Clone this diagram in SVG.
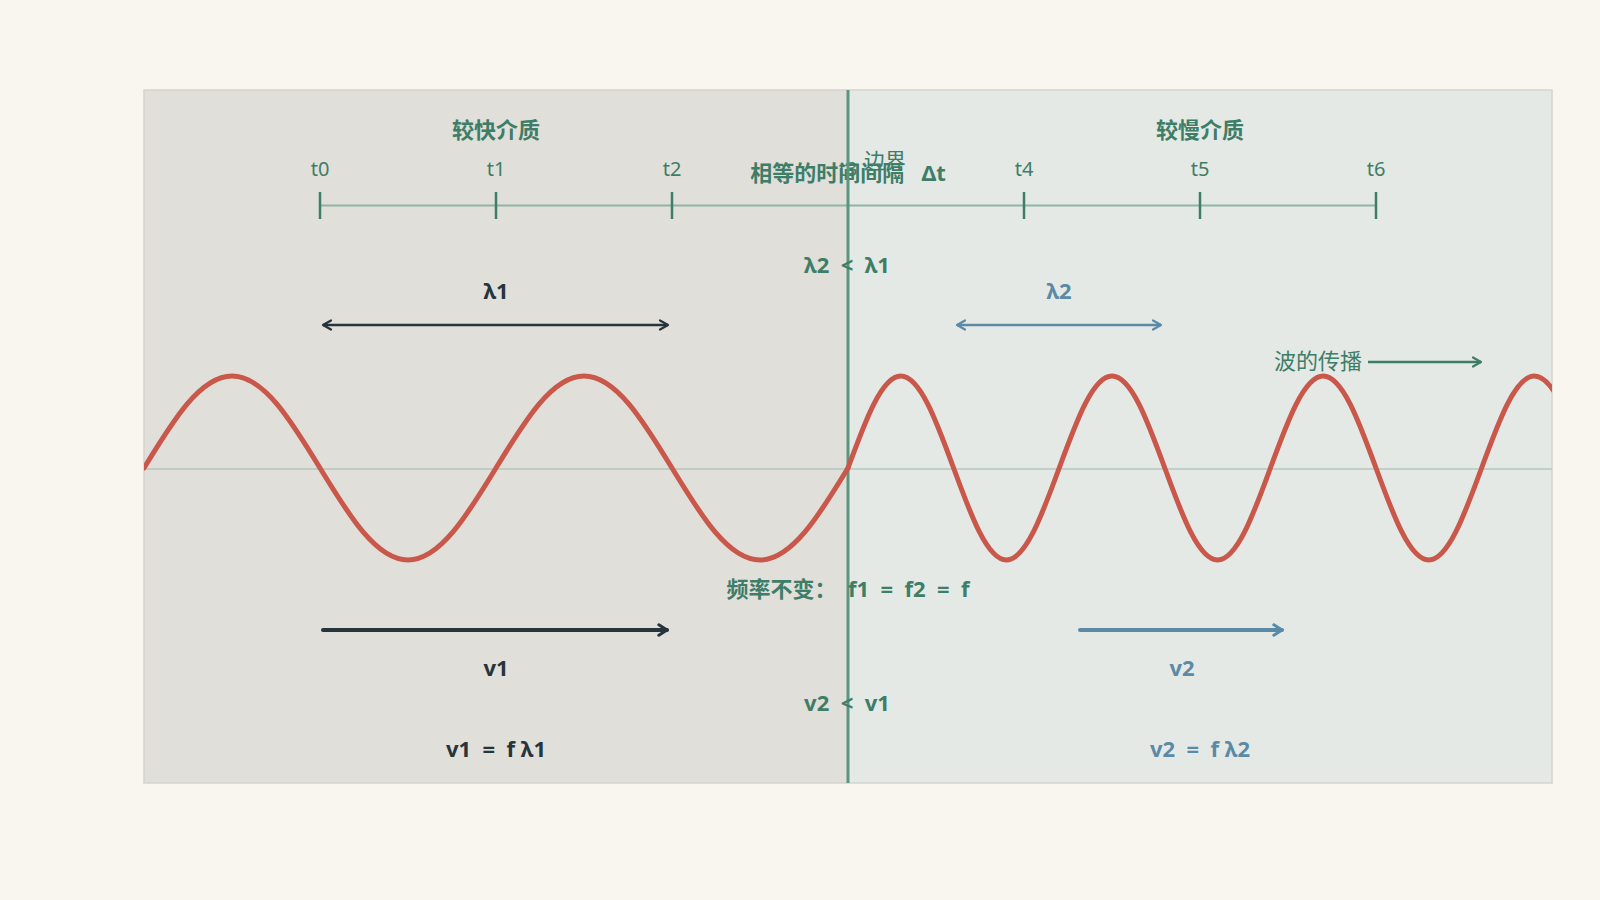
<svg xmlns="http://www.w3.org/2000/svg" width="1600" height="900" viewBox="0 0 1600 900">
<style>
.t{font-family:"Noto Sans","Noto Sans CJK SC",sans-serif;text-anchor:middle;white-space:pre}
.b{font-weight:bold}
.g{fill:#3e7d67}
.d{fill:#27343c}
.bl{fill:#5a8aa6}
.tick{stroke:#3e7d67;stroke-width:2.5}
</style>
<defs>
<marker id="hd" viewBox="0 0 12 12" refX="10" refY="6" markerWidth="12" markerHeight="12" markerUnits="userSpaceOnUse" orient="auto-start-reverse"><path d="M2,1.5 L10,6 L2,10.5" fill="none" stroke="#27343c" stroke-width="2.2" stroke-linecap="round" stroke-linejoin="round"/></marker>
<marker id="hb" viewBox="0 0 12 12" refX="10" refY="6" markerWidth="12" markerHeight="12" markerUnits="userSpaceOnUse" orient="auto-start-reverse"><path d="M2,1.5 L10,6 L2,10.5" fill="none" stroke="#5a8aa6" stroke-width="2.2" stroke-linecap="round" stroke-linejoin="round"/></marker>
<marker id="hg" viewBox="0 0 12 12" refX="10" refY="6" markerWidth="12" markerHeight="12" markerUnits="userSpaceOnUse" orient="auto"><path d="M2,1.5 L10,6 L2,10.5" fill="none" stroke="#3e7d67" stroke-width="2.2" stroke-linecap="round" stroke-linejoin="round"/></marker>
<marker id="hdt" viewBox="0 0 12 12" refX="10" refY="6" markerWidth="14" markerHeight="14" markerUnits="userSpaceOnUse" orient="auto"><path d="M3,1.5 L10,6 L3,10.5" fill="none" stroke="#27343c" stroke-width="2.6" stroke-linecap="round" stroke-linejoin="round"/></marker>
<marker id="hbt" viewBox="0 0 12 12" refX="10" refY="6" markerWidth="14" markerHeight="14" markerUnits="userSpaceOnUse" orient="auto"><path d="M3,1.5 L10,6 L3,10.5" fill="none" stroke="#5a8aa6" stroke-width="2.6" stroke-linecap="round" stroke-linejoin="round"/></marker>
<clipPath id="pc"><rect x="144" y="90" width="1408" height="693"/></clipPath>
</defs>
<rect width="1600" height="900" fill="#f9f6ef"/>
<g id="media">
<rect id="fast" x="144" y="90" width="704" height="693" fill="#e0dfda"/>
<rect id="slow" x="848" y="90" width="704" height="693" fill="#e4e9e5"/>
<rect x="144" y="90" width="1408" height="693" fill="none" stroke="#d6d4cd" stroke-width="1.5"/>
</g>
<g id="titles">
<text class="t b g" x="496" y="138" font-size="22">较快介质</text>
<text class="t b g" x="1200" y="138" font-size="22">较慢介质</text>
</g>
<g id="timeline">
<line x1="320" y1="205.5" x2="1376" y2="205.5" stroke="#8fb5a4" stroke-width="1.8"/>
<line class="tick" x1="320" y1="192" x2="320" y2="219"/>
<line class="tick" x1="496" y1="192" x2="496" y2="219"/>
<line class="tick" x1="672" y1="192" x2="672" y2="219"/>
<line class="tick" x1="1024" y1="192" x2="1024" y2="219"/>
<line class="tick" x1="1200" y1="192" x2="1200" y2="219"/>
<line class="tick" x1="1376" y1="192" x2="1376" y2="219"/>
<text class="t g" x="320" y="176" font-size="20">t0</text>
<text class="t g" x="496" y="176" font-size="20">t1</text>
<text class="t g" x="672" y="176" font-size="20">t2</text>
<text class="t g" x="848" y="176" font-size="20">t3</text>
<text class="t g" x="1024" y="176" font-size="20">t4</text>
<text class="t g" x="1200" y="176" font-size="20">t5</text>
<text class="t g" x="1376" y="176" font-size="20">t6</text>
<text class="g" x="864" y="168" font-size="21" font-family="Noto Sans, Noto Sans CJK SC, sans-serif">边界</text>
<text class="t b g" x="848" y="181" font-size="22">相等的时间间隔   Δt</text>
</g>
<g id="axis">
<line x1="144" y1="469" x2="1552" y2="469" stroke="#b5c6bd" stroke-width="1.5"/>
</g>
<g id="boundary">
<line x1="848" y1="90" x2="848" y2="783" stroke="#5a9580" stroke-width="3"/>
</g>
<g id="wave" clip-path="url(#pc)" fill="none" stroke="#c9574a" stroke-width="5" stroke-linecap="round" stroke-linejoin="round">
<path d="M144,468 c28.70,-47.13 56.15,-92 88,-92 s59.30,44.87 88,92 s56.15,92 88,92 s59.30,-44.87 88,-92 s56.15,-92 88,-92 s59.30,44.87 88,92 s56.15,92 88,92 s59.30,-44.87 88,-92"/>
<path d="M848,468 c17.22,-47.13 33.69,-92 52.8,-92 s35.58,44.87 52.8,92 s33.69,92 52.8,92 s35.58,-44.87 52.8,-92 s33.69,-92 52.8,-92 s35.58,44.87 52.8,92 s33.69,92 52.8,92 s35.58,-44.87 52.8,-92 s33.69,-92 52.8,-92 s35.58,44.87 52.8,92 s33.69,92 52.8,92 s35.58,-44.87 52.8,-92 s33.69,-92 52.8,-92 s35.58,44.87 52.8,92 s33.69,92 52.8,92 s35.58,-44.87 52.8,-92"/>
</g>
<g id="connectors">
<line x1="323" y1="325" x2="668" y2="325" stroke="#27343c" stroke-width="2.5" marker-start="url(#hd)" marker-end="url(#hd)"/>
<line x1="957" y1="325" x2="1161" y2="325" stroke="#5a8aa6" stroke-width="2.5" marker-start="url(#hb)" marker-end="url(#hb)"/>
<line x1="1368" y1="362" x2="1481" y2="362" stroke="#3e7d67" stroke-width="2.5" marker-end="url(#hg)"/>
<line x1="323" y1="630" x2="667" y2="630" stroke="#27343c" stroke-width="4" stroke-linecap="round" marker-end="url(#hdt)"/>
<line x1="1080" y1="630" x2="1282" y2="630" stroke="#5a8aa6" stroke-width="4" stroke-linecap="round" marker-end="url(#hbt)"/>
</g>
<g id="labels">
<text class="t b g" x="847" y="273" font-size="22">λ2  &lt;  λ1</text>
<text class="t b d" x="496" y="299" font-size="22">λ1</text>
<text class="t b bl" x="1059" y="299" font-size="22">λ2</text>
<text class="g" x="1274" y="369" font-size="22" font-family="Noto Sans, Noto Sans CJK SC, sans-serif">波的传播</text>
<text class="t b g" x="848" y="597" font-size="22">频率不变：  f1  =  f2  =  f</text>
<text class="t b d" x="496" y="676" font-size="22">v1</text>
<text class="t b bl" x="1182" y="676" font-size="22">v2</text>
<text class="t b g" x="847" y="711" font-size="22">v2  &lt;  v1</text>
<text class="t b d" x="496" y="757" font-size="22">v1  =  f λ1</text>
<text class="t b bl" x="1200" y="757" font-size="22">v2  =  f λ2</text>
</g>
</svg>
